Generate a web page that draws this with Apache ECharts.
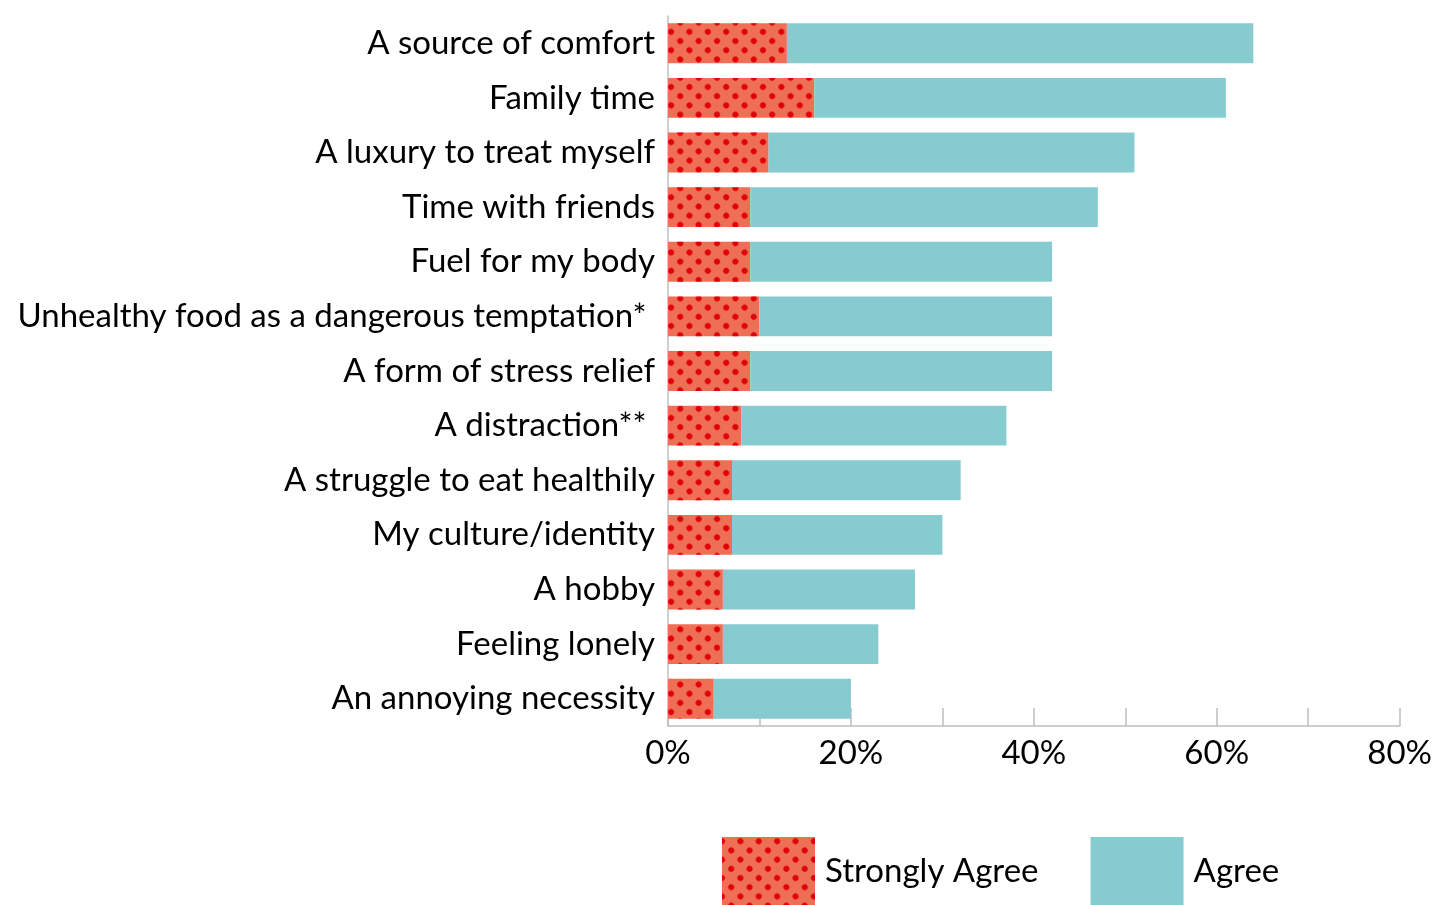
<!DOCTYPE html>
<html>
<head>
<meta charset="utf-8">
<script src="https://cdn.jsdelivr.net/npm/echarts@6/dist/echarts.min.js"></script>
<style>
html,body{margin:0;padding:0;background:#fff;}
#chart{width:1435px;height:905px;}
</style>
</head>
<body>
<div id="chart"></div>
<script>
const categories = [
  "A source of comfort",
  "Family time",
  "A luxury to treat myself",
  "Time with friends",
  "Fuel for my body",
  "Unhealthy food as a dangerous temptation* ",
  "A form of stress relief",
  "A distraction** ",
  "A struggle to eat healthily",
  "My culture/identity",
  "A hobby",
  "Feeling lonely",
  "An annoying necessity"
];
const stronglyAgree = [13, 16, 11, 9, 9, 10, 9, 8, 7, 7, 6, 6, 5];
const agree = [51, 45, 40, 38, 33, 32, 33, 29, 25, 23, 21, 17, 15];
const seriesNames = ["Strongly Agree", "Agree"];

const FONT = "Lato, 'Open Sans', sans-serif";
const chart = echarts.init(document.getElementById('chart'), null, {renderer: 'canvas'});
chart.setOption({
  animation: false,
  grid: {left: 668, right: 34, top: 16, bottom: 179, containLabel: false},
  legend: {
    data: seriesNames,
    left: 722, top: 837,
    padding: 0,
    itemWidth: 93, itemHeight: 68,
    itemGap: 52,
    icon: 'rect',
    textStyle: {fontFamily: FONT, fontSize: 33, color: '#000', padding: [18, 0, 0, 5]}
  },
  xAxis: {
    type: 'value', min: 0, max: 80, interval: 10,
    axisLine: {show: true, lineStyle: {color: '#BFBFBF', width: 1.5}},
    axisTick: {show: true, inside: true, length: 18, lineStyle: {color: '#BFBFBF', width: 1.5}},
    splitLine: {show: false},
    axisLabel: {
      fontFamily: FONT, fontSize: 33, color: '#000', margin: 11,
      formatter: v => (v % 20 === 0 ? v + '%' : '')
    }
  },
  yAxis: {
    type: 'category', data: categories, inverse: true, offset: 3,
    axisLine: {show: true, lineStyle: {color: '#BFBFBF', width: 1.5}},
    axisTick: {show: false},
    axisLabel: {fontFamily: FONT, fontSize: 33, color: '#000', margin: 10, padding: [9, 0, 0, 0]}
  },
  series: [
    {
      name: seriesNames[0], type: 'bar', stack: 'a', data: stronglyAgree,
      barCategoryGap: '27%',
      itemStyle: {
        color: '#EF6F55',
        decal: {
          symbol: 'circle', symbolSize: 1, color: '#E0000A',
          dashArrayX: [5.5, 6.5],
          dashArrayY: [5.5, 6.5],
          rotation: Math.PI / 4
        }
      }
    },
    {
      name: seriesNames[1], type: 'bar', stack: 'a', data: agree,
      barCategoryGap: '27%',
      itemStyle: {color: '#86CBD0'}
    }
  ]
});
</script>
</body>
</html>
